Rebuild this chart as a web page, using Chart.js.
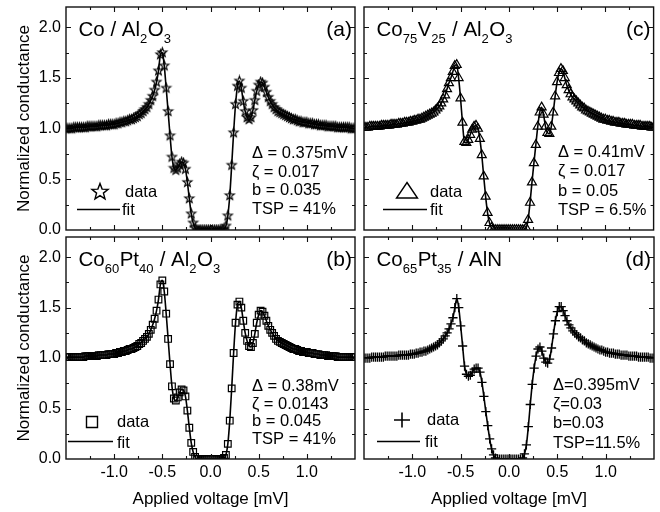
<!DOCTYPE html>
<html>
<head>
<meta charset="utf-8">
<script src="https://cdn.jsdelivr.net/npm/chart.js@4/dist/chart.umd.min.js"></script>
<style>
  html,body{margin:0;padding:0;background:#fff;}
  body{width:660px;height:512px;position:relative;overflow:hidden;}
  canvas{position:absolute;left:0;top:0;}
</style>
</head>
<body>
<script>
// ---------------- DATA ----------------
const voltage = [
 -1.50,-1.48,-1.46,-1.44,-1.42,-1.40,-1.38,-1.36,-1.34,-1.32,
 -1.30,-1.28,-1.26,-1.24,-1.22,-1.20,-1.18,-1.16,-1.14,-1.12,
 -1.10,-1.08,-1.06,-1.04,-1.02,-1.00,-0.98,-0.96,-0.94,-0.92,
 -0.90,-0.88,-0.86,-0.84,-0.82,-0.80,-0.78,-0.76,-0.74,-0.72,
 -0.70,-0.68,-0.66,-0.64,-0.62,-0.60,-0.58,-0.56,-0.54,-0.52,
 -0.50,-0.48,-0.46,-0.44,-0.42,-0.40,-0.38,-0.36,-0.34,-0.32,
 -0.30,-0.28,-0.26,-0.24,-0.22,-0.20,-0.18,-0.16,-0.14,-0.12,
 -0.10,-0.08,-0.06,-0.04,-0.02, 0.00, 0.02, 0.04, 0.06, 0.08,
  0.10, 0.12, 0.14, 0.16, 0.18, 0.20, 0.22, 0.24, 0.26, 0.28,
  0.30, 0.32, 0.34, 0.36, 0.38, 0.40, 0.42, 0.44, 0.46, 0.48,
  0.50, 0.52, 0.54, 0.56, 0.58, 0.60, 0.62, 0.64, 0.66, 0.68,
  0.70, 0.72, 0.74, 0.76, 0.78, 0.80, 0.82, 0.84, 0.86, 0.88,
  0.90, 0.92, 0.94, 0.96, 0.98, 1.00, 1.02, 1.04, 1.06, 1.08,
  1.10, 1.12, 1.14, 1.16, 1.18, 1.20, 1.22, 1.24, 1.26, 1.28,
  1.30, 1.32, 1.34, 1.36, 1.38, 1.40, 1.42, 1.44, 1.46, 1.48,
  1.50
];

// (a) Co / Al2O3
const gCo = [
 1.00,1.00,1.00,1.00,1.01,1.01,1.01,1.01,1.01,1.01,
 1.01,1.02,1.02,1.02,1.02,1.02,1.02,1.03,1.03,1.03,
 1.03,1.03,1.04,1.04,1.04,1.04,1.05,1.05,1.06,1.06,
 1.07,1.07,1.08,1.09,1.09,1.10,1.11,1.12,1.14,1.15,
 1.17,1.19,1.21,1.24,1.28,1.32,1.38,1.46,1.57,1.73,
 1.75,1.62,1.40,1.17,0.93,0.72,0.61,0.59,0.61,0.65,
 0.67,0.66,0.60,0.47,0.31,0.16,0.07,0.02,0.00,0.00,
 0.00,0.00,0.00,0.00,0.00,0.00,0.00,0.00,0.00,0.00,
 0.00,0.00,0.01,0.04,0.14,0.34,0.64,0.96,1.24,1.42,
 1.47,1.40,1.27,1.17,1.11,1.09,1.11,1.18,1.28,1.37,
 1.43,1.46,1.45,1.41,1.36,1.31,1.27,1.24,1.21,1.19,
 1.17,1.16,1.15,1.14,1.13,1.12,1.11,1.10,1.09,1.09,
 1.08,1.07,1.07,1.06,1.06,1.06,1.05,1.05,1.05,1.04,
 1.04,1.04,1.03,1.03,1.03,1.03,1.02,1.02,1.02,1.02,
 1.02,1.01,1.01,1.01,1.01,1.01,1.01,1.01,1.00,1.00,
 1.00
];

// (b) Co60Pt40 / Al2O3
const gCoPt40 = [
 1.01,1.01,1.01,1.01,1.01,1.01,1.01,1.01,1.01,1.01,
 1.02,1.02,1.02,1.02,1.02,1.02,1.02,1.03,1.03,1.03,
 1.03,1.03,1.04,1.04,1.04,1.04,1.05,1.05,1.06,1.06,
 1.07,1.07,1.08,1.09,1.09,1.10,1.11,1.12,1.14,1.15,
 1.17,1.19,1.21,1.24,1.28,1.33,1.39,1.47,1.58,1.73,
 1.77,1.66,1.44,1.19,0.94,0.72,0.60,0.58,0.61,0.66,
 0.69,0.68,0.62,0.48,0.31,0.16,0.07,0.02,0.00,0.00,
 0.00,0.00,0.00,0.00,0.00,0.00,0.00,0.00,0.00,0.00,
 0.00,0.00,0.01,0.04,0.15,0.38,0.70,1.05,1.35,1.53,
 1.56,1.50,1.37,1.25,1.17,1.12,1.11,1.15,1.24,1.35,
 1.43,1.47,1.46,1.42,1.37,1.32,1.28,1.25,1.22,1.19,
 1.17,1.16,1.15,1.14,1.13,1.12,1.11,1.10,1.09,1.09,
 1.08,1.07,1.07,1.06,1.06,1.06,1.05,1.05,1.05,1.04,
 1.04,1.04,1.03,1.03,1.03,1.03,1.02,1.02,1.02,1.02,
 1.02,1.01,1.01,1.01,1.01,1.01,1.01,1.01,1.01,1.01,
 1.01
];

// (c) Co75V25 / Al2O3
const gCoV = [
 1.01,1.01,1.01,1.02,1.02,1.02,1.02,1.02,1.02,1.03,
 1.03,1.03,1.03,1.03,1.04,1.04,1.04,1.04,1.05,1.05,
 1.05,1.06,1.06,1.06,1.07,1.07,1.08,1.08,1.09,1.09,
 1.10,1.11,1.12,1.13,1.14,1.15,1.16,1.18,1.20,1.22,
 1.25,1.29,1.33,1.39,1.45,1.50,1.56,1.62,1.63,1.50,
 1.30,1.06,0.87,0.86,0.89,0.94,0.99,1.02,1.03,1.00,
 0.90,0.74,0.53,0.33,0.17,0.07,0.02,0.00,0.00,0.00,
 0.00,0.00,0.00,0.00,0.00,0.00,0.00,0.00,0.00,0.00,
 0.00,0.00,0.00,0.00,0.02,0.10,0.27,0.47,0.66,0.84,
 1.02,1.16,1.21,1.14,1.02,0.96,0.95,1.02,1.16,1.32,
 1.46,1.55,1.59,1.57,1.50,1.43,1.38,1.34,1.31,1.29,
 1.27,1.25,1.23,1.21,1.20,1.18,1.17,1.16,1.15,1.14,
 1.13,1.12,1.11,1.10,1.09,1.09,1.08,1.08,1.07,1.07,
 1.06,1.06,1.06,1.05,1.05,1.05,1.04,1.04,1.04,1.04,
 1.03,1.03,1.03,1.03,1.02,1.02,1.02,1.02,1.02,1.01,
 1.01
];

// (d) Co65Pt35 / AlN
const gCoPt35 = [
 1.00,1.00,1.00,1.00,1.01,1.01,1.01,1.01,1.01,1.01,
 1.01,1.02,1.02,1.02,1.02,1.02,1.02,1.02,1.03,1.03,
 1.03,1.03,1.03,1.03,1.04,1.04,1.04,1.05,1.05,1.06,
 1.06,1.07,1.07,1.08,1.09,1.10,1.11,1.12,1.13,1.15,
 1.17,1.19,1.22,1.25,1.29,1.34,1.40,1.50,1.59,1.50,
 1.32,1.12,0.92,0.84,0.82,0.83,0.86,0.89,0.90,0.90,
 0.86,0.76,0.62,0.47,0.33,0.20,0.10,0.04,0.01,0.00,
 0.00,0.00,0.00,0.00,0.00,0.00,0.00,0.00,0.00,0.00,
 0.00,0.00,0.01,0.05,0.14,0.32,0.54,0.74,0.90,1.02,
 1.09,1.11,1.07,1.00,0.96,0.95,0.99,1.10,1.24,1.37,
 1.46,1.51,1.51,1.47,1.42,1.37,1.33,1.30,1.27,1.25,
 1.23,1.21,1.20,1.18,1.17,1.15,1.14,1.13,1.12,1.11,
 1.10,1.09,1.08,1.08,1.07,1.06,1.06,1.05,1.05,1.05,
 1.04,1.04,1.04,1.03,1.03,1.03,1.03,1.02,1.02,1.02,
 1.02,1.02,1.01,1.01,1.01,1.01,1.01,1.01,1.00,1.00,
 1.00
];

// tick positions
const xMajorTicks = [-1.0,-0.5,0.0,0.5,1.0];
const xMinorTicks = [-1.25,-0.75,-0.25,0.25,0.75,1.25];
const yMajorTicks = [0.5,1.0,1.5,2.0];
const yMinorTicks = [0.25,0.75,1.25,1.75];

// panel texts
const titleA = [['Co / Al',0],['2',1],['O',0],['3',1]];
const titleB = [['Co',0],['60',1],['Pt',0],['40',1],[' / Al',0],['2',1],['O',0],['3',1]];
const titleC = [['Co',0],['75',1],['V',0],['25',1],[' / Al',0],['2',1],['O',0],['3',1]];
const titleD = [['Co',0],['65',1],['Pt',0],['35',1],[' / AlN',0]];
const paramsA = ['\u0394 = 0.375mV','\u03B6 = 0.017','b = 0.035','TSP = 41%'];
const paramsB = ['\u0394 = 0.38mV','\u03B6 = 0.0143','b = 0.045','TSP = 41%'];
const paramsC = ['\u0394 = 0.41mV','\u03B6 = 0.017','b = 0.05','TSP = 6.5%'];
const paramsD = ['\u0394=0.395mV','\u03B6=0.03','b=0.03','TSP=11.5%'];

// ---------------- STYLE / LAYOUT ----------------
const FONT = '"Liberation Sans", Arial, Helvetica, sans-serif';
Chart.defaults.font.family = FONT;
Chart.defaults.color = '#000';

function starImage(R, r, lw, color){
  const size = Math.ceil(2*R + 3);
  const c = document.createElement('canvas');
  c.width = size; c.height = size;
  const g = c.getContext('2d');
  g.beginPath();
  for (let i = 0; i < 10; i++){
    const a = -Math.PI/2 + i*Math.PI/5;
    const rr = (i % 2) ? r : R;
    g.lineTo(size/2 + rr*Math.cos(a), size/2 + rr*Math.sin(a));
  }
  g.closePath();
  g.lineWidth = lw; g.strokeStyle = color; g.stroke();
  return c;
}

const layouts = [
  { values: gCo, area:[66,7,355,230], showX:false, showY:true,
    marker:{style: starImage(4.8, 2.0, 1.1, '#000'), radius:4.5, bw:1},
    legendType:'star', title:titleA, tag:'(a)', params:paramsA,
    leg:{mx:34,my:-38,dx:59,dy:-33,l1:11,l2:54,ly:-21,fx:56,fy:-15},
    par:{x:186, ys:[-72,-53.5,-35,-16.5]} },
  { values: gCoPt40, area:[66,237,355,459], showX:true, showY:true,
    marker:{style:'rect', radius:4.7, bw:1.2},
    legendType:'rect', title:titleB, tag:'(b)', params:paramsB,
    leg:{mx:26,my:-37,dx:51,dy:-32,l1:2,l2:47,ly:-18,fx:51,fy:-11},
    par:{x:186, ys:[-68,-50.5,-33,-15.5]} },
  { values: gCoV, area:[364,7,654,230], showX:false, showY:false,
    marker:{style:'triangle', radius:5.2, bw:1.2},
    legendType:'triangle', title:titleC, tag:'(c)', params:paramsC,
    leg:{mx:43,my:-39,dx:66,dy:-33,l1:19,l2:63,ly:-21,fx:66,fy:-15},
    par:{x:194, ys:[-73,-54,-34,-15]} },
  { values: gCoPt35, area:[364,237,654,459], showX:true, showY:false,
    marker:{style:'cross', radius:4.6, bw:1.3},
    legendType:'cross', title:titleD, tag:'(d)', params:paramsD,
    leg:{mx:38,my:-39,dx:63,dy:-34,l1:13,l2:56,ly:-18,fx:61,fy:-12},
    par:{x:189, ys:[-69,-50,-31,-11]} }
];

function drawRich(ctx, parts, x, y, size){
  let cx = x;
  for (const [txt, sub] of parts){
    const fs = sub ? Math.round(size*0.62) : size;
    ctx.font = fs + 'px ' + FONT;
    ctx.fillText(txt, cx, y + (sub ? 6.5 : 0));
    cx += ctx.measureText(txt).width + (sub ? 0.5 : 0);
  }
}

function drawLegendMarker(ctx, type, x, y){
  ctx.save();
  ctx.strokeStyle = '#000';
  ctx.lineWidth = 1.4;
  ctx.beginPath();
  if (type === 'star'){
    for (let i = 0; i < 10; i++){
      const a = -Math.PI/2 + i*Math.PI/5;
      const rr = (i % 2) ? 3.6 : 8.5;
      ctx.lineTo(x + rr*Math.cos(a), y + rr*Math.sin(a));
    }
    ctx.closePath();
  } else if (type === 'rect'){
    ctx.rect(x-5.5, y-5.5, 11, 11);
  } else if (type === 'triangle'){
    ctx.moveTo(x, y-8.5); ctx.lineTo(x+10.5, y+7); ctx.lineTo(x-10.5, y+7); ctx.closePath();
  } else {
    ctx.lineWidth = 1.6;
    ctx.moveTo(x-8, y); ctx.lineTo(x+8, y);
    ctx.moveTo(x, y-7.5); ctx.lineTo(x, y+7.5);
  }
  ctx.stroke();
  ctx.restore();
}

function makePanel(p){
  const cv = document.createElement('canvas');
  cv.width = 660; cv.height = 512;
  document.body.appendChild(cv);
  const [L, T, R, B] = p.area;
  const YW = p.showY ? 52 : 0;
  const XH = p.showX ? 51 : 0;
  const pts = voltage.map((v, i) => ({x: v, y: p.values[i]}));

  const framePlugin = {
    id: 'frame' + p.tag,
    afterDatasetsDraw(chart){
      const ctx = chart.ctx;
      const a = chart.chartArea;
      const xs = chart.scales.x, ys = chart.scales.y;
      ctx.save();
      ctx.strokeStyle = '#111';
      ctx.lineWidth = 1.4;
      ctx.strokeRect(a.left, a.top, a.right - a.left, a.bottom - a.top);
      ctx.lineWidth = 1.1;
      ctx.beginPath();
      const tickX = (vals, len) => vals.forEach(v => {
        const px = Math.round(xs.getPixelForValue(v)) + 0.5;
        ctx.moveTo(px, a.bottom); ctx.lineTo(px, a.bottom - len);
        ctx.moveTo(px, a.top); ctx.lineTo(px, a.top + len);
      });
      const tickY = (vals, len) => vals.forEach(v => {
        const py = Math.round(ys.getPixelForValue(v)) + 0.5;
        ctx.moveTo(a.left, py); ctx.lineTo(a.left + len, py);
        ctx.moveTo(a.right, py); ctx.lineTo(a.right - len, py);
      });
      tickX(xMajorTicks, 5); tickX(xMinorTicks, 3);
      tickY(yMajorTicks, 5); tickY(yMinorTicks, 3);
      ctx.stroke();

      // texts
      ctx.fillStyle = '#000';
      ctx.textBaseline = 'alphabetic';
      ctx.textAlign = 'left';
      drawRich(ctx, p.title, a.left + 12.5, a.top + 29, 20.5);
      ctx.font = '21px ' + FONT;
      ctx.textAlign = 'right';
      ctx.fillText(p.tag, a.right - 3, a.top + 29);
      ctx.textAlign = 'left';
      ctx.font = '16.5px ' + FONT;
      p.params.forEach((s, i) => ctx.fillText(s, a.left + p.par.x, a.bottom + p.par.ys[i]));
      // legend
      const g = p.leg;
      drawLegendMarker(ctx, p.legendType, a.left + g.mx, a.bottom + g.my);
      ctx.fillText('data', a.left + g.dx, a.bottom + g.dy);
      ctx.beginPath();
      ctx.lineWidth = 1.5;
      ctx.strokeStyle = '#000';
      ctx.moveTo(a.left + g.l1, a.bottom + g.ly + 0.5);
      ctx.lineTo(a.left + g.l2, a.bottom + g.ly + 0.5);
      ctx.stroke();
      ctx.fillText('fit', a.left + g.fx, a.bottom + g.fy);
      ctx.restore();
    }
  };

  const zeroPad = (s) => { s.paddingLeft = 0; s.paddingRight = 0; s.paddingTop = 0; s.paddingBottom = 0; };

  new Chart(cv, {
    type: 'scatter',
    data: {
      datasets: [
        { label: 'data', data: pts, showLine: false,
          pointStyle: p.marker.style, pointRadius: p.marker.radius, pointHoverRadius: p.marker.radius,
          borderColor: '#000', backgroundColor: 'rgba(0,0,0,0)', pointBorderWidth: p.marker.bw },
        { label: 'fit', data: pts, showLine: true, pointRadius: 0, pointHoverRadius: 0,
          borderColor: '#000', borderWidth: 1.6, cubicInterpolationMode: 'monotone', fill: false }
      ]
    },
    options: {
      responsive: false, animation: false, devicePixelRatio: 1, events: [],
      layout: { padding: { left: L - YW, top: T, right: 660 - R, bottom: 512 - B - XH } },
      plugins: { legend: { display: false }, tooltip: { enabled: false } },
      scales: {
        x: {
          type: 'linear', min: -1.5, max: 1.5,
          grid: { display: false, drawTicks: false }, border: { display: false },
          ticks: { display: p.showX, stepSize: 0.5, includeBounds: false, padding: 4, autoSkip: false,
                   maxRotation: 0, color: '#000', font: { size: 16, family: FONT },
                   callback: (v) => Math.abs(v) > 1.3 ? '' : Number(v).toFixed(1) },
          title: { display: p.showX, text: 'Applied voltage [mV]', color: '#000',
                   font: { size: 17, family: FONT }, padding: 0 },
          afterFit: (s) => { s.height = XH; zeroPad(s); }
        },
        y: {
          type: 'linear', min: 0, max: 2.2,
          grid: { display: false, drawTicks: false }, border: { display: false },
          ticks: { display: p.showY, stepSize: 0.5, includeBounds: false, padding: 5, autoSkip: false,
                   color: '#000', font: { size: 16, family: FONT },
                   callback: (v) => Number(v).toFixed(1) },
          title: { display: p.showY, text: 'Normalized conductance', color: '#000',
                   font: { size: 17, family: FONT }, padding: 0 },
          afterFit: (s) => { s.width = YW; zeroPad(s); }
        }
      }
    },
    plugins: [framePlugin]
  });
}

layouts.forEach(makePanel);
</script>
</body>
</html>
